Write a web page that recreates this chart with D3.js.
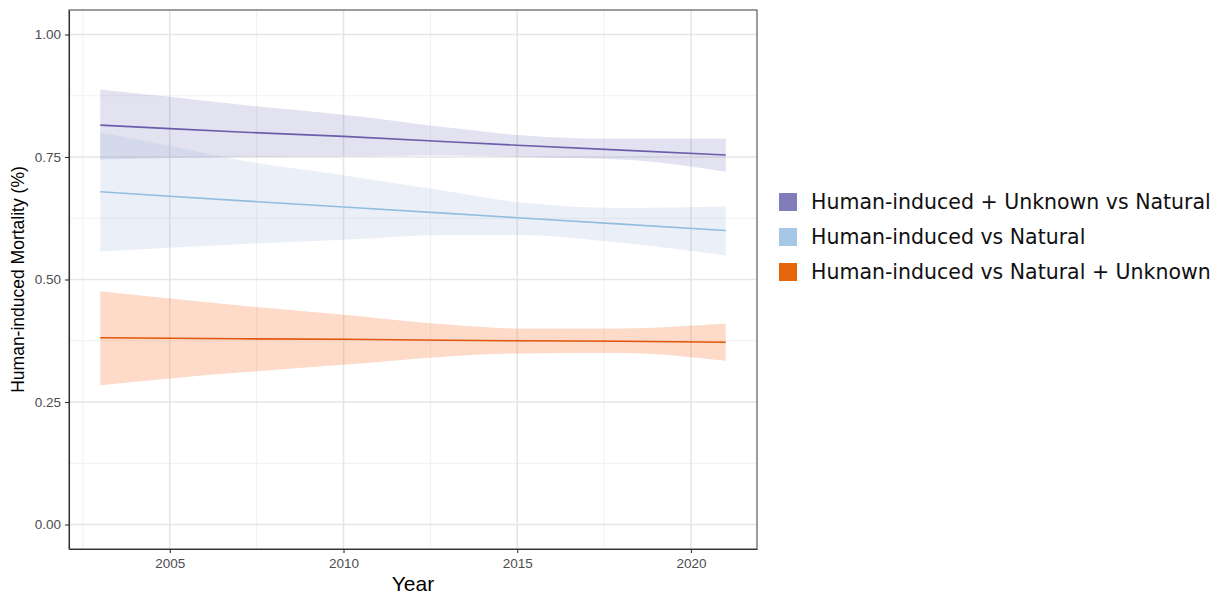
<!DOCTYPE html>
<html>
<head>
<meta charset="utf-8">
<script src="https://cdn.jsdelivr.net/npm/d3@7"></script>
<style>
  body { margin: 0; background: #fff; }
</style>
</head>
<body>
<div id="chart"></div>
<script>
// values
const years = [2003, 2005, 2007, 2010, 2013, 2015, 2018, 2021];

const unkNatFit = [0.815, 0.808, 0.801, 0.792, 0.781, 0.774, 0.764, 0.754];
const unkNatLo  = [0.745, 0.748, 0.750, 0.751, 0.753, 0.750, 0.745, 0.720];
const unkNatHi  = [0.888, 0.873, 0.857, 0.836, 0.810, 0.795, 0.787, 0.787];

const natFit = [0.679, 0.670, 0.661, 0.648, 0.635, 0.626, 0.613, 0.600];
const natLo  = [0.557, 0.565, 0.572, 0.581, 0.591, 0.591, 0.575, 0.549];
const natHi  = [0.800, 0.773, 0.744, 0.713, 0.680, 0.658, 0.646, 0.649];

const natUnkFit = [0.381, 0.380, 0.379, 0.378, 0.376, 0.375, 0.374, 0.372];
const natUnkLo  = [0.284, 0.298, 0.310, 0.326, 0.343, 0.349, 0.350, 0.334];
const natUnkHi  = [0.476, 0.461, 0.447, 0.428, 0.408, 0.400, 0.400, 0.410];

const seriesNames = ['Human-induced + Unknown vs Natural', 'Human-induced vs Natural', 'Human-induced vs Natural + Unknown'];
const keyColors  = ['#807dba', '#a6c8e6', '#e6650a'];
const lineColors = ['#6a5dab', '#90bde0', '#e0560c'];
const ribbonColors = ['#807dba', '#a3b9e0', '#f87d3a'];
const ribbonAlpha = [0.22, 0.22, 0.28];

const yTicks = [0, 0.25, 0.5, 0.75, 1];
const xTicks = [2005, 2010, 2015, 2020];

const width = 1221, height = 596;
const panel = {left: 69, right: 757, top: 10, bottom: 549};

const svg = d3.select('#chart')
              .append('svg')
              .attr('width', width)
              .attr('height', height);

let scaleX = d3.scaleLinear().domain([2002.1, 2021.9]).range([panel.left, panel.right]);
let scaleY = d3.scaleLinear().domain([-0.05, 1.05]).range([panel.bottom, panel.top]);

// grid: minor first, then major
const minorY = [0.125, 0.375, 0.625, 0.875];
const minorX = [2002.5, 2007.5, 2012.5, 2017.5];

svg.selectAll('.minorY').data(minorY).enter().append('line')
   .attr('x1', panel.left).attr('x2', panel.right)
   .attr('y1', d => scaleY(d)).attr('y2', d => scaleY(d))
   .style('stroke', '#f0f0f0').style('stroke-width', 1);
svg.selectAll('.minorX').data(minorX).enter().append('line')
   .attr('y1', panel.top).attr('y2', panel.bottom)
   .attr('x1', d => scaleX(d)).attr('x2', d => scaleX(d))
   .style('stroke', '#f0f0f0').style('stroke-width', 1);
svg.selectAll('.majorY').data(yTicks).enter().append('line')
   .attr('x1', panel.left).attr('x2', panel.right)
   .attr('y1', d => scaleY(d)).attr('y2', d => scaleY(d))
   .style('stroke', '#e6e6e6').style('stroke-width', 1.6);
svg.selectAll('.majorX').data(xTicks).enter().append('line')
   .attr('y1', panel.top).attr('y2', panel.bottom)
   .attr('x1', d => scaleX(d)).attr('x2', d => scaleX(d))
   .style('stroke', '#e6e6e6').style('stroke-width', 1.6);

// ribbons and fitted lines
const series = [
  {fit: unkNatFit, lo: unkNatLo, hi: unkNatHi},
  {fit: natFit, lo: natLo, hi: natHi},
  {fit: natUnkFit, lo: natUnkLo, hi: natUnkHi}
];

let area = d3.area()
             .x(d => scaleX(d.year))
             .y0(d => scaleY(d.lo))
             .y1(d => scaleY(d.hi))
             .curve(d3.curveMonotoneX);
let line = d3.line()
             .x(d => scaleX(d.year))
             .y(d => scaleY(d.fit));

series.forEach((s, i) => {
  let pts = years.map((y, j) => ({year: y, fit: s.fit[j], lo: s.lo[j], hi: s.hi[j]}));
  svg.append('path')
     .datum(pts)
     .attr('d', area)
     .style('fill', ribbonColors[i])
     .style('fill-opacity', ribbonAlpha[i]);
  svg.append('path')
     .datum(pts)
     .attr('d', line)
     .style('fill', 'none')
     .style('stroke', lineColors[i])
     .style('stroke-width', 1.6);
});

// panel border
svg.append('rect')
   .attr('x', panel.left).attr('y', panel.top)
   .attr('width', panel.right - panel.left).attr('height', panel.bottom - panel.top)
   .style('fill', 'none').style('stroke', '#4d4d4d').style('stroke-width', 1.1);

// axes
let yAxis = d3.axisLeft(scaleY).tickValues(yTicks).tickFormat(d3.format('.2f'))
              .tickSizeInner(4).tickSizeOuter(0).tickPadding(4);
let xAxis = d3.axisBottom(scaleX).tickValues(xTicks).tickFormat(d3.format('d'))
              .tickSizeInner(4).tickSizeOuter(0).tickPadding(5);

let yAxisGroup = svg.append('g')
                    .attr('transform', 'translate(' + panel.left + ',0)')
                    .call(yAxis);
let xAxisGroup = svg.append('g')
                    .attr('transform', 'translate(0,' + panel.bottom + ')')
                    .call(xAxis);

[yAxisGroup, xAxisGroup].forEach(g => {
  g.select('.domain').style('stroke', '#333').style('stroke-width', 1.1);
  g.selectAll('.tick line').style('stroke', '#333').style('stroke-width', 1.1);
  g.selectAll('.tick text')
   .style('fill', '#4d4d4d')
   .style('font-family', 'Liberation Sans, Arial, sans-serif')
   .style('font-size', '13.5px');
});

// axis titles
svg.append('text')
   .attr('x', (panel.left + panel.right) / 2)
   .attr('y', 591)
   .style('text-anchor', 'middle')
   .style('font-family', 'Liberation Sans, Arial, sans-serif')
   .style('font-size', '21px')
   .text('Year');

svg.append('text')
   .attr('transform', 'translate(24,' + ((panel.top + panel.bottom) / 2) + ') rotate(-90)')
   .style('text-anchor', 'middle')
   .style('font-family', 'Liberation Sans, Arial, sans-serif')
   .style('font-size', '17.5px')
   .text('Human-induced Mortality (%)');

// legend
let legend = svg.selectAll('.legend')
                .data(seriesNames)
                .enter()
                .append('g')
                .attr('transform', (d, i) => 'translate(779,' + (193 + i * 35) + ')');

legend.append('rect')
      .attr('width', 18).attr('height', 18)
      .style('fill', (d, i) => keyColors[i]);

legend.append('text')
      .attr('x', 32)
      .attr('y', 9)
      .attr('dy', '0.36em')
      .style('font-family', 'DejaVu Sans, sans-serif')
      .style('font-size', '20.5px')
      .style('fill', '#111')
      .text(d => d);
</script>
</body>
</html>
